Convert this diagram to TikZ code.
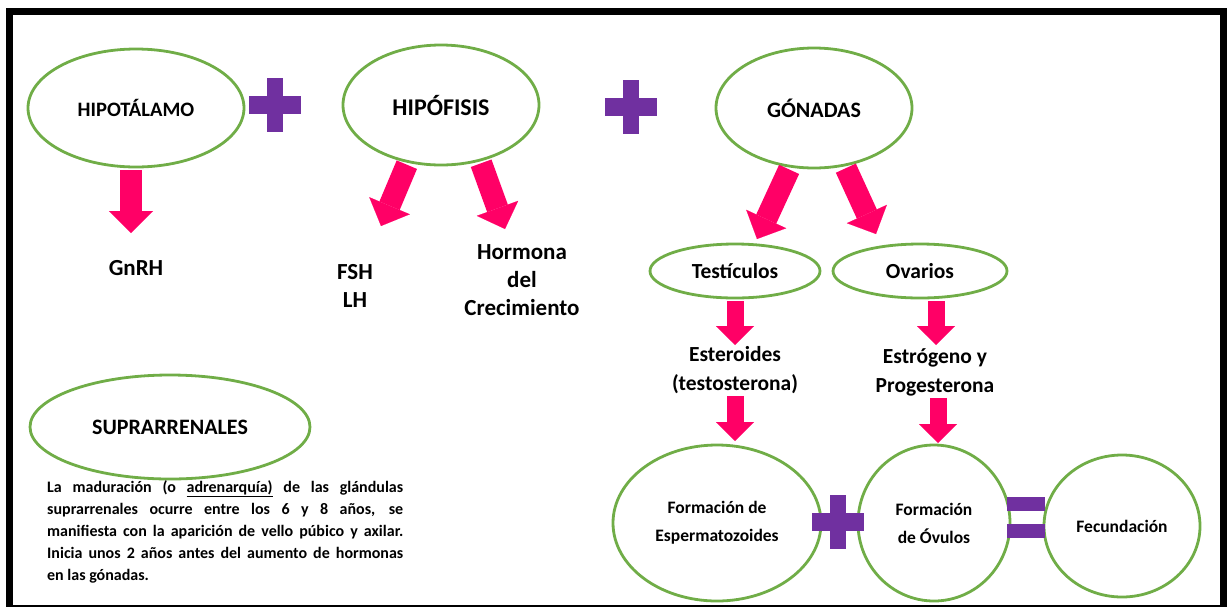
\documentclass[tikz,border=0pt]{standalone}
\usepackage{fontspec}
\setmainfont{Carlito}
\usetikzlibrary{positioning,arrows.meta,shapes.geometric}
\definecolor{leaf}{HTML}{70AD47}
\definecolor{rosa}{HTML}{FF0066}
\definecolor{morado}{HTML}{7030A0}

\begin{document}
\begin{tikzpicture}[
  x=1pt, y=-1pt,
  organ/.style={
    ellipse,
    draw=leaf,
    line width=2.8pt,
    fill=white,
    inner sep=0pt,
    align=center,
    font=\bfseries\fontsize{22}{24}\selectfont
  },
  hormone/.style={align=center, inner sep=0pt, font=\bfseries\fontsize{23}{28}\selectfont},
  pk/.style={draw=rosa, line width=22pt, -{Triangle[width=44pt,length=22pt,line width=0.1pt]}, shorten <=2pt},
  pksmall/.style={draw=rosa, line width=17pt, -{Triangle[width=38pt,length=19pt,line width=0.1pt]}, shorten <=2pt},
  plussign/.pic={
    \fill[morado] (-8,-27) rectangle (8,27);
    \fill[morado] (-26,-9) rectangle (26,9);
  },
  equalsign/.pic={
    \fill[morado] (-19,-20) rectangle (19,-6);
    \fill[morado] (-19,7) rectangle (19,21);
  }
]
\useasboundingbox (0,0) rectangle (1228,606);
\draw[line width=7pt] (9.5,11.5) rectangle (1223.5,608);

% top row
\node[organ, minimum width=216pt, minimum height=118pt, font=\bfseries\fontsize{20.5}{24}\selectfont] (hipot) at (136,108) {HIPOTÁLAMO};
\node[organ, minimum width=196pt, minimum height=120pt, font=\bfseries\fontsize{24}{24}\selectfont] (hipof) at (441,105) {HIPÓFISIS};
\node[organ, minimum width=196pt, minimum height=120pt] (gonad) at (814,108) {GÓNADAS};
\pic at (275,105) {plussign};
\pic at (631,107) {plussign};

% hormones
\node[hormone] (gnrh)  at (136,268) {GnRH};
\node[hormone] (fshlh) at (355,286) {FSH\\LH};
\node[hormone] (gh)    at (522,280) {Hormona\\del\\Crecimiento};
\coordinate (gnrhtip) at (131,233);
\coordinate (fshtip)  at (381,226);
\coordinate (ghtip)   at (505,229);

\draw[pk] (hipot.south -| gnrhtip) -- (gnrhtip);
\draw[pk] (hipof.240) -- (fshtip);
\draw[pk] (hipof.305) -- (ghtip);

% gonads
\node[organ, minimum width=170pt, minimum height=54pt, font=\bfseries\fontsize{21.5}{24}\selectfont] (testic) at (735,271) {Testículos};
\node[organ, minimum width=174pt, minimum height=54pt, font=\bfseries\fontsize{21.5}{24}\selectfont] (ovar) at (920,271) {Ovarios};
\coordinate (testtip) at (757,239);
\coordinate (ovartip) at (876,234);
\draw[pk] (gonad.248) -- (testtip);
\draw[pk] (gonad.298) -- (ovartip);

\node[hormone, font=\bfseries\fontsize{21.5}{29}\selectfont] (estero) at (735,370) {Esteroides\\(testosterona)};
\node[hormone, font=\bfseries\fontsize{21.5}{29}\selectfont] (estrog) at (935,372) {Estrógeno y\\Progesterona};
\coordinate (esterotip) at (735,345);
\coordinate (estrogtip) at (936,345);
\draw[pksmall] (testic.south -| esterotip) -- (esterotip);
\draw[pksmall] (ovar.south -| estrogtip) -- (estrogtip);

% cells
\node[organ, minimum width=208pt, minimum height=156pt, font=\bfseries\fontsize{17.5}{28}\selectfont] (esperm) at (717,523) {Formación de\\Espermatozoides};
\node[organ, minimum width=152pt, minimum height=156pt, font=\bfseries\fontsize{17.5}{28}\selectfont] (ovulo) at (934,523) {Formación\\de Óvulos};
\node[organ, minimum width=156pt, minimum height=142pt, font=\bfseries\fontsize{17.5}{28}\selectfont] (fecund) at (1122,526) {Fecundación};
\coordinate (espermtip) at (735,441);
\coordinate (ovulotip)  at (938,443);
\draw[pksmall] (estero.south -| espermtip) -- (espermtip);
\draw[pksmall] (estrog.south -| ovulotip) -- (ovulotip);
\pic at (838,522) {plussign};
\pic at (1026,517) {equalsign};

% adrenal
\node[organ, minimum width=280pt, minimum height=104pt] (supra) at (170,427) {SUPRARRENALES};
\node[anchor=north west, text width=356pt, align=justify, inner sep=0pt,
      font=\bfseries\fontsize{16}{22}\selectfont] (nota) at (47,480)
  {La maduración (o \underline{adrenarquía)} de las glándulas\linebreak
   suprarrenales ocurre entre los 6 y 8 años, se\linebreak
   manifiesta con la aparición de vello púbico y axilar.\linebreak
   Inicia unos 2 años antes del aumento de hormonas\linebreak
   en las gónadas.};
\end{tikzpicture}
\end{document}
